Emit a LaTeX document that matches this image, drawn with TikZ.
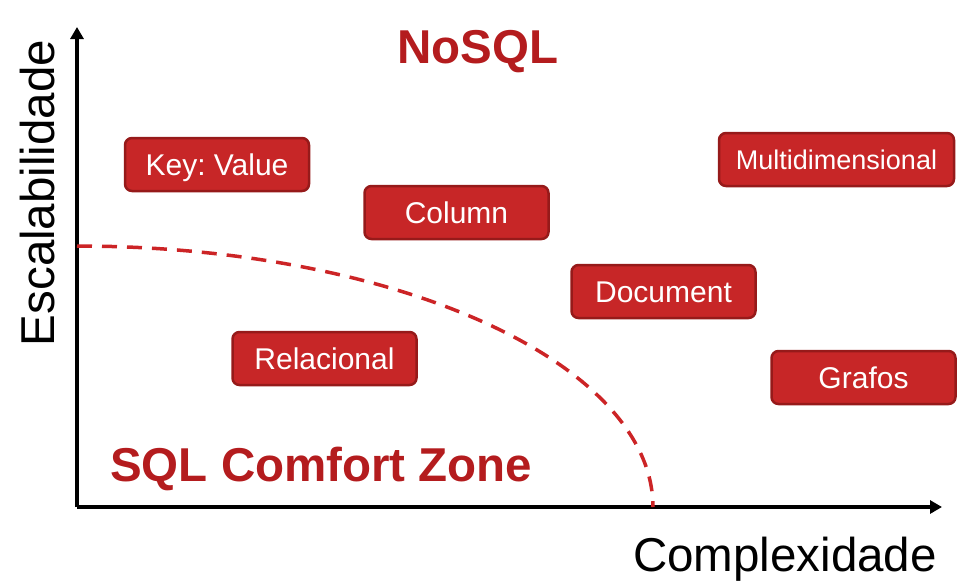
\documentclass[tikz,border=0pt]{standalone}
\usepackage{fontspec}
\setmainfont{Liberation Sans}
\usetikzlibrary{arrows.meta}
\frenchspacing
\definecolor{boxfill}{RGB}{199,38,39}
\definecolor{boxdraw}{RGB}{150,26,26}
\definecolor{titlered}{RGB}{180,28,30}
\definecolor{dashred}{RGB}{204,36,38}
\begin{document}
\begin{tikzpicture}[x=1pt,y=-1pt,
  catbox/.style={draw=boxdraw, fill=boxfill, line width=2.5pt, rounded corners=7pt,
    minimum width=184pt, minimum height=53pt, inner sep=0pt, text=white,
    text height=22pt, text depth=0pt,
    font=\fontsize{30}{33}\selectfont},
  axisline/.style={line width=4pt, -{Triangle[length=12pt,width=13pt]}},
  bigtitle/.style={inner sep=0pt, text=titlered, font=\fontsize{47.5}{52}\selectfont\bfseries},
  axislabel/.style={inner sep=0pt, text=black, font=\fontsize{47.5}{52}\selectfont}]
\useasboundingbox (0,0) rectangle (971,584);
% axes
\coordinate (O) at (77,507);
\coordinate (Ytop) at (77,27);
\coordinate (Xend) at (942,507);
\draw[axisline] (O) -- (Ytop);
\draw[axisline] (O) -- (Xend);
% dashed comfort boundary (quarter ellipse)
\draw[dashred, line width=3.5pt, dash pattern=on 15pt off 10pt]
  plot[domain=0:90, samples=60, smooth] ({77+576*sin(\x)}, {507-261*cos(\x)});
% category boxes
\node[catbox] (kv) at (217,164.5) {Key: Value};
\node[catbox] (col) at (456.5,212.5) {Column};
\node[catbox, minimum width=235pt, text height=19.5pt, font=\fontsize{27}{30}\selectfont] (md) at (836.5,159.5) {Multidimensional};
\node[catbox] (doc) at (663.5,291.5) {Document};
\node[catbox] (rel) at (324.5,358.5) {Relacional};
\node[catbox] (gr) at (863.5,377.5) {Grafos};
% titles
\node[bigtitle, anchor=base west] (nosql) at (397,63) {NoSQL};
\node[bigtitle, anchor=base west] (sqlcz) at (110,481) {SQL Comfort Zone};
% axis labels
\node[axislabel, anchor=base east] (xl) at (937,571) {Complexidade};
\node[axislabel, anchor=base, rotate=90] (yl) at (54,193) {Escalabilidade};
\end{tikzpicture}
\end{document}
